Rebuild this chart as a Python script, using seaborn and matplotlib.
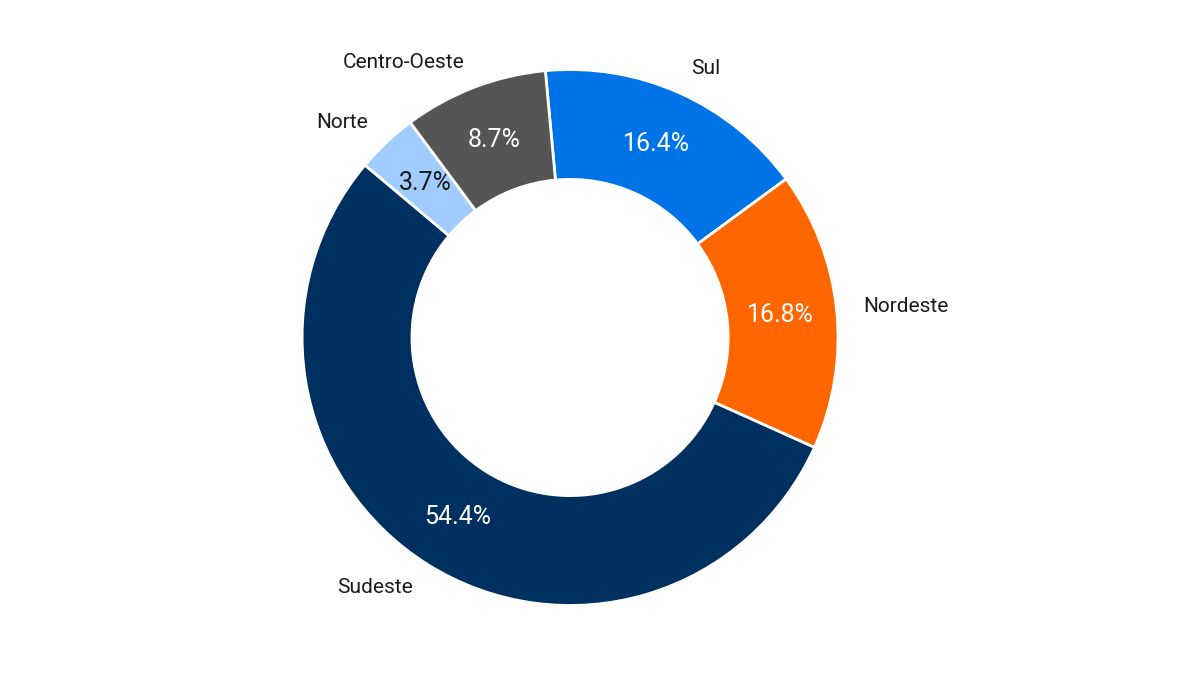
import matplotlib
matplotlib.use("Agg")
import matplotlib.pyplot as plt
import seaborn as sns

regions = ["Sul", "Nordeste", "Sudeste", "Norte", "Centro-Oeste"]
shares = [16.4, 16.8, 54.4, 3.7, 8.7]
colors = ["#0073E6", "#FF6600", "#003060", "#A0CCFF", "#555555"]
pct_colors = ["white", "white", "white", "#1a1a1a", "white"]

sns.set_theme(style="white")
plt.rcParams['font.family'] = ['Roboto', 'DejaVu Sans']

fig = plt.figure(figsize=(12, 6.75), dpi=100)
ax = fig.add_axes([0.475 - 0.2233, 0.5 - 0.397, 0.4467, 0.794])

wedges, texts, autotexts = ax.pie(
    shares, labels=regions, colors=colors, startangle=95.3, counterclock=False,
    autopct='%1.1f%%', pctdistance=0.79, labeldistance=1.1,
    wedgeprops=dict(width=0.41, edgecolor='white', linewidth=2),
    textprops=dict(fontsize=15, color='#1a1a1a'))
for t, c in zip(autotexts, pct_colors):
    t.set_color(c)
    t.set_fontsize(18)

ax.set_xlim(-1, 1)
ax.set_ylim(-1, 1)
ax.set_aspect('equal')
ax.axis('off')
fig.savefig("out.png", dpi=100, facecolor='white')
